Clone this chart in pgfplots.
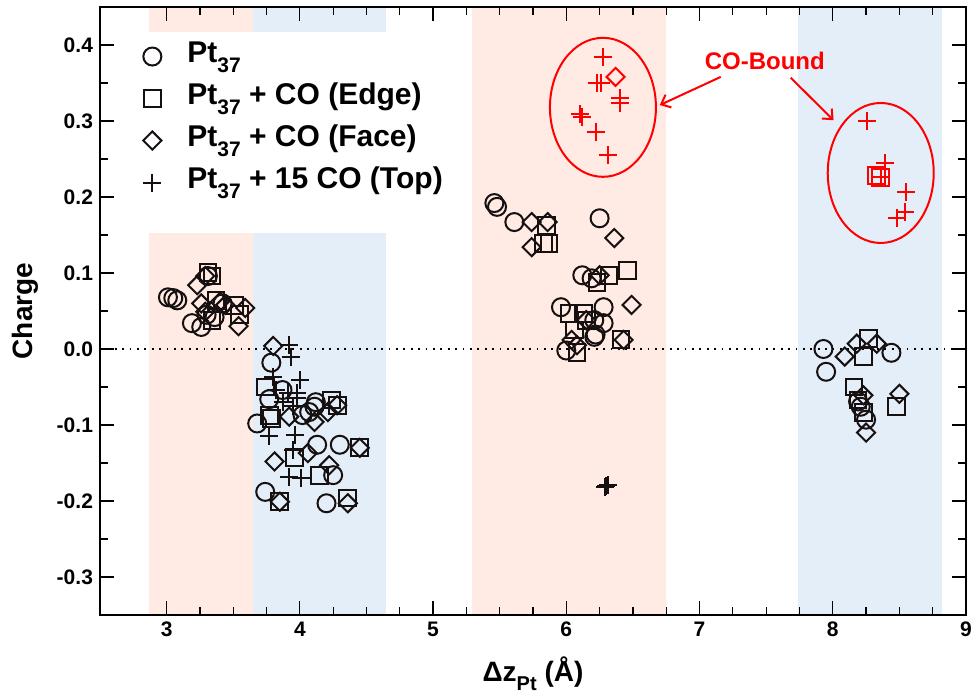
\documentclass[border=0pt]{standalone}
\usepackage{fontspec}
\setmainfont{Liberation Sans}
\usepackage{pgfplots}
\pgfplotsset{compat=1.18}
\usetikzlibrary{arrows.meta}
\definecolor{bandpink}{RGB}{255,235,228}
\definecolor{bandblue}{RGB}{228,238,248}
\definecolor{mk}{RGB}{22,16,16}
\newcommand\legsub[1]{\raisebox{-5pt}{\fontsize{10.5}{12}\selectfont #1}}
\newcommand\labsub[1]{\raisebox{-4.5pt}{\fontsize{10}{12}\selectfont #1}}

\begin{document}
\begin{tikzpicture}
\begin{axis}[
    name=ax,
    width=433pt, height=304pt, scale only axis,
    xmin=2.5, xmax=9, ymin=-0.35, ymax=0.45,
    xtick={3,4,5,6,7,8,9}, xticklabels={3,4,5,6,7,8,9},
    ytick={-0.3,-0.2,-0.1,0,0.1,0.2,0.3,0.4},
    yticklabels={-0.3,-0.2,-0.1,0.0,0.1,0.2,0.3,0.4},
    minor x tick num=3, minor y tick num=1,
    tick align=inside, major tick length=7pt, minor tick length=4pt,
    axis line style={line width=0.6pt},
    every tick/.append style={line width=0.6pt, black},
    axis on top,
    ticklabel style={font=\fontsize{10.5}{12}\selectfont\bfseries},
    label style={font=\fontsize{14}{16}\selectfont\bfseries},
    xlabel={Δz\labsub{Pt} (Å)},
    xlabel style={at={(axis description cs:0.5,0)}, anchor=base, yshift=-33.5pt},
    ylabel={Charge},
    ylabel style={at={(axis description cs:0,0.5)}, anchor=base, yshift=33.5pt},
    legend cell align=left,
    legend style={at={(axis cs:2.822,0.413)}, anchor=north west,
        draw=none, fill=none, inner sep=0pt, column sep=10.5pt,
        font=\fontsize{15}{16}\selectfont\bfseries,
        nodes={text height=11pt, text depth=5pt, inner sep=2.5pt}},
]
% shaded bands
\fill[bandpink] (axis cs:2.87,-0.35) rectangle (axis cs:3.65,0.153);
\fill[bandpink] (axis cs:2.87,0.417) rectangle (axis cs:3.65,0.45);
\fill[bandblue] (axis cs:3.65,-0.35) rectangle (axis cs:4.65,0.153);
\fill[bandblue] (axis cs:3.65,0.417) rectangle (axis cs:4.65,0.45);
\fill[bandpink] (axis cs:5.29,-0.35) rectangle (axis cs:6.75,0.45);
\fill[bandblue] (axis cs:7.74,-0.35) rectangle (axis cs:8.82,0.45);

\addplot[forget plot, black, line width=0.9pt, dash pattern=on 0.9pt off 2.8pt]
    coordinates {(2.5,0) (9,0)};

% Pt37
\addplot[only marks, mark=o, mark size=4.5pt, mk, mark options={line width=1pt}]
coordinates {
(3.01,0.068)(3.05,0.067)(3.08,0.064)(3.19,0.034)(3.26,0.029)(3.30,0.045)(3.36,0.042)(3.31,0.096)(3.42,0.060)
(3.68,-0.098)(3.74,-0.188)(3.786,-0.018)(3.77,-0.066)(3.87,-0.054)(4.02,-0.087)(4.07,-0.083)(4.12,-0.070)
(4.11,-0.076)(4.13,-0.126)(4.30,-0.126)(4.20,-0.203)(4.25,-0.166)
(5.46,0.192)(5.48,0.187)(5.61,0.167)(6.25,0.172)(6.12,0.097)(6.19,0.093)(5.96,0.055)(6.28,0.055)
(6.28,0.034)(6.22,0.019)(6.21,0.016)(6.00,-0.002)(6.21,0.038)
(7.93,0.0)(7.95,-0.030)(8.44,-0.005)(8.19,-0.069)(8.21,-0.076)(8.25,-0.093)
};
\addlegendentry{Pt\legsub{37}}

% Pt37 + CO (Edge)
\addplot[only marks, mark=square, mark size=4.2pt, mk, mark options={line width=1pt}]
coordinates {
(3.31,0.101)(3.34,0.096)(3.37,0.064)(3.51,0.057)(3.55,0.045)(3.34,0.038)
(3.74,-0.05)(3.79,-0.091)(3.77,-0.087)(4.24,-0.067)(4.28,-0.074)(3.96,-0.143)(4.15,-0.166)
(3.85,-0.201)(4.36,-0.196)(4.45,-0.130)
(5.85,0.163)(5.83,0.139)(5.87,0.139)(6.32,0.097)(6.46,0.103)(6.23,0.088)(6.02,0.047)(6.13,0.047)
(6.06,0.025)(6.08,-0.005)(6.41,0.012)(6.15,0.038)
(8.27,0.014)(8.23,-0.010)(8.16,-0.050)(8.23,-0.084)(8.48,-0.076)(8.19,-0.067)
};
\addlegendentry{Pt\legsub{37} + CO (Edge)}

% Pt37 + CO (Face)
\addplot[only marks, mark=square, mark size=3.2pt, mk, mark options={line width=1pt, rotate=45}]
coordinates {
(3.23,0.084)(3.26,0.060)(3.40,0.062)(3.44,0.058)(3.59,0.054)(3.54,0.030)(3.29,0.096)(3.29,0.049)
(3.80,0.004)(3.92,-0.089)(4.11,-0.096)(4.21,-0.083)(4.28,-0.074)(3.81,-0.148)(4.06,-0.137)
(4.22,-0.153)(3.85,-0.201)(4.36,-0.203)(4.45,-0.130)
(5.74,0.167)(5.86,0.167)(5.74,0.134)(6.36,0.146)(6.25,0.097)(6.49,0.058)(6.15,0.038)(6.04,0.012)
(6.08,0.005)(6.43,0.012)
(8.18,0.007)(8.33,0.007)(8.09,-0.010)(8.23,-0.061)(8.50,-0.059)(8.25,-0.110)
};
\addlegendentry{Pt\legsub{37} + CO (Face)}

% Pt37 + 15 CO (Top)
\addplot[only marks, mark=+, mark size=4.5pt, mk, mark options={line width=1pt}]
coordinates {
(3.92,0.005)(3.93,-0.010)(3.80,-0.037)(4.00,-0.041)(3.98,-0.058)(3.87,-0.070)(3.98,-0.065)
(3.77,-0.115)(3.96,-0.113)(3.95,-0.133)(3.92,-0.169)(4.01,-0.170)(3.82,-0.054)(3.91,-0.058)(3.95,-0.075)
(6.30,-0.180)(6.29,-0.181)(6.31,-0.179)
};
\addlegendentry{Pt\legsub{37} + 15 CO (Top)}

% CO-bound atoms
\addplot[forget plot, only marks, mark=+, mark size=4.5pt, red, mark options={line width=1pt}]
coordinates {
(6.275,0.384)(6.23,0.350)(6.26,0.350)(6.40,0.330)(6.40,0.324)(6.10,0.309)(6.12,0.305)(6.22,0.286)(6.31,0.255)
(8.26,0.300)(8.39,0.245)(8.36,0.226)(8.55,0.207)(8.54,0.180)(8.48,0.172)
};
\addplot[forget plot, only marks, mark=square, mark size=3.2pt, red, mark options={line width=1pt, rotate=45}]
coordinates {(6.37,0.358)};
\addplot[forget plot, only marks, mark=square, mark size=4.2pt, red, mark options={line width=1pt}]
coordinates {(8.33,0.228)(8.36,0.226)};

\draw[red, line width=1pt] (axis cs:6.275,0.318) ellipse [x radius=26.5pt, y radius=34.75pt];
\draw[red, line width=1pt] (axis cs:8.36,0.2316) ellipse [x radius=26.5pt, y radius=35pt];
\node[red, font=\fontsize{12}{14}\selectfont\bfseries] at (axis cs:7.49,0.379) {CO-Bound};
\draw[red, line width=1pt, -{Straight Barb[length=4pt,width=7pt]}] (axis cs:7.159,0.358) -- (axis cs:6.702,0.321);
\draw[red, line width=1pt, -{Straight Barb[length=4pt,width=7pt]}] (axis cs:7.684,0.357) -- (axis cs:8.006,0.301);
\end{axis}
\pgfresetboundingbox
\path[use as bounding box] ([shift={(-50pt,-39pt)}]ax.south west) rectangle ([shift={(2.5pt,3.5pt)}]ax.north east);
\end{tikzpicture}
\end{document}
